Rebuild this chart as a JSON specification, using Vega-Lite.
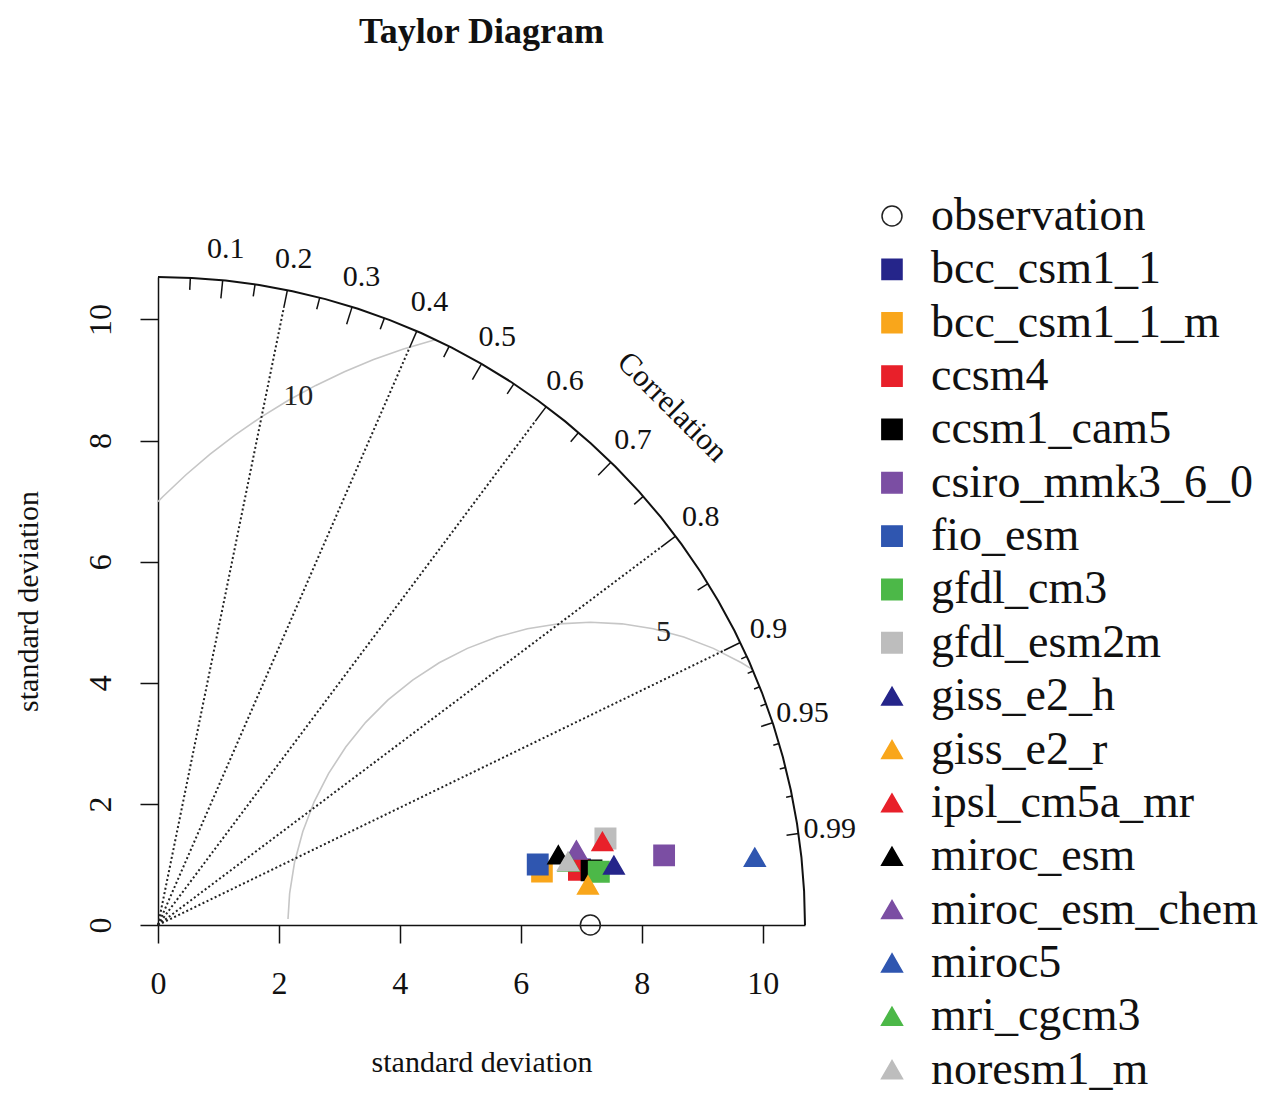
{
  "$schema": "https://vega.github.io/schema/vega-lite/v6.json",
  "width": 647,
  "height": 648,
  "autosize": {"type": "none"},
  "padding": {"left": 158, "top": 277, "right": 457, "bottom": 168},
  "background": "white",
  "config": {
    "view": {"stroke": null},
    "font": "Liberation Serif",
    "legend": {
      "labelFont": "Liberation Serif",
      "labelFontSize": 46,
      "labelColor": "#111111",
      "labelLimit": 500,
      "labelOffset": 16,
      "rowPadding": 7.35,
      "padding": 0,
      "symbolStrokeWidth": 1.5,
      "symbolOpacity": 1
    }
  },
  "title": {
    "text": "Taylor Diagram",
    "font": "Liberation Serif",
    "fontSize": 36,
    "fontWeight": "bold",
    "anchor": "middle",
    "frame": "group",
    "baseline": "alphabetic",
    "offset": 114,
    "color": "#111111"
  },
  "datasets": {
    "outer": [
      {"i": 0, "x": 10.7, "y": 0},
      {"i": 1, "x": 10.685, "y": 0.56},
      {"i": 2, "x": 10.641, "y": 1.118},
      {"i": 3, "x": 10.568, "y": 1.674},
      {"i": 4, "x": 10.466, "y": 2.225},
      {"i": 5, "x": 10.335, "y": 2.769},
      {"i": 6, "x": 10.176, "y": 3.307},
      {"i": 7, "x": 9.989, "y": 3.835},
      {"i": 8, "x": 9.775, "y": 4.352},
      {"i": 9, "x": 9.534, "y": 4.858},
      {"i": 10, "x": 9.266, "y": 5.35},
      {"i": 11, "x": 8.974, "y": 5.828},
      {"i": 12, "x": 8.657, "y": 6.289},
      {"i": 13, "x": 8.316, "y": 6.734},
      {"i": 14, "x": 7.952, "y": 7.16},
      {"i": 15, "x": 7.566, "y": 7.566},
      {"i": 16, "x": 7.16, "y": 7.952},
      {"i": 17, "x": 6.734, "y": 8.316},
      {"i": 18, "x": 6.289, "y": 8.657},
      {"i": 19, "x": 5.828, "y": 8.974},
      {"i": 20, "x": 5.35, "y": 9.266},
      {"i": 21, "x": 4.858, "y": 9.534},
      {"i": 22, "x": 4.352, "y": 9.775},
      {"i": 23, "x": 3.835, "y": 9.989},
      {"i": 24, "x": 3.307, "y": 10.176},
      {"i": 25, "x": 2.769, "y": 10.335},
      {"i": 26, "x": 2.225, "y": 10.466},
      {"i": 27, "x": 1.674, "y": 10.568},
      {"i": 28, "x": 1.118, "y": 10.641},
      {"i": 29, "x": 0.56, "y": 10.685},
      {"i": 30, "x": 0, "y": 10.7}
    ],
    "rms": [
      {"r": "5", "i": 0, "x": 9.829, "y": 4.222},
      {"r": "5", "i": 1, "x": 9.65, "y": 4.33},
      {"r": "5", "i": 2, "x": 9.184, "y": 4.568},
      {"r": "5", "i": 3, "x": 8.695, "y": 4.755},
      {"r": "5", "i": 4, "x": 8.19, "y": 4.891},
      {"r": "5", "i": 5, "x": 7.673, "y": 4.973},
      {"r": "5", "i": 6, "x": 7.15, "y": 5.0},
      {"r": "5", "i": 7, "x": 6.627, "y": 4.973},
      {"r": "5", "i": 8, "x": 6.11, "y": 4.891},
      {"r": "5", "i": 9, "x": 5.605, "y": 4.755},
      {"r": "5", "i": 10, "x": 5.116, "y": 4.568},
      {"r": "5", "i": 11, "x": 4.65, "y": 4.33},
      {"r": "5", "i": 12, "x": 4.211, "y": 4.045},
      {"r": "5", "i": 13, "x": 3.804, "y": 3.716},
      {"r": "5", "i": 14, "x": 3.434, "y": 3.346},
      {"r": "5", "i": 15, "x": 3.105, "y": 2.939},
      {"r": "5", "i": 16, "x": 2.82, "y": 2.5},
      {"r": "5", "i": 17, "x": 2.582, "y": 2.034},
      {"r": "5", "i": 18, "x": 2.395, "y": 1.545},
      {"r": "5", "i": 19, "x": 2.259, "y": 1.04},
      {"r": "5", "i": 20, "x": 2.177, "y": 0.523},
      {"r": "5", "i": 21, "x": 2.15, "y": 0.1},
      {"r": "10", "i": 0, "x": 4.596, "y": 9.668},
      {"r": "10", "i": 1, "x": 4.06, "y": 9.511},
      {"r": "10", "i": 2, "x": 3.566, "y": 9.336},
      {"r": "10", "i": 3, "x": 3.083, "y": 9.136},
      {"r": "10", "i": 4, "x": 2.61, "y": 8.91},
      {"r": "10", "i": 5, "x": 2.15, "y": 8.66},
      {"r": "10", "i": 6, "x": 1.704, "y": 8.387},
      {"r": "10", "i": 7, "x": 1.272, "y": 8.09},
      {"r": "10", "i": 8, "x": 0.857, "y": 7.772},
      {"r": "10", "i": 9, "x": 0.459, "y": 7.431},
      {"r": "10", "i": 10, "x": 0.079, "y": 7.071},
      {"r": "10", "i": 11, "x": 0, "y": 6.991}
    ],
    "rays": [
      {"x": 0, "y": 0, "x2": 2.08, "y2": 10.19},
      {"x": 0, "y": 0, "x2": 4.16, "y2": 9.532},
      {"x": 0, "y": 0, "x2": 6.24, "y2": 8.32},
      {"x": 0, "y": 0, "x2": 8.32, "y2": 6.24},
      {"x": 0, "y": 0, "x2": 9.36, "y2": 4.533}
    ],
    "ticks": [
      {"x": 0.535, "y": 10.686, "x2": 0.525, "y2": 10.487},
      {"x": 1.07, "y": 10.646, "x2": 1.04, "y2": 10.348},
      {"x": 1.605, "y": 10.579, "x2": 1.575, "y2": 10.381},
      {"x": 2.14, "y": 10.484, "x2": 2.08, "y2": 10.19},
      {"x": 2.675, "y": 10.36, "x2": 2.625, "y2": 10.167},
      {"x": 3.21, "y": 10.207, "x2": 3.12, "y2": 9.921},
      {"x": 3.745, "y": 10.023, "x2": 3.675, "y2": 9.836},
      {"x": 4.28, "y": 9.807, "x2": 4.16, "y2": 9.532},
      {"x": 4.815, "y": 9.555, "x2": 4.725, "y2": 9.377},
      {"x": 5.35, "y": 9.266, "x2": 5.2, "y2": 9.007},
      {"x": 5.885, "y": 8.936, "x2": 5.775, "y2": 8.769},
      {"x": 6.42, "y": 8.56, "x2": 6.24, "y2": 8.32},
      {"x": 6.955, "y": 8.131, "x2": 6.825, "y2": 7.979},
      {"x": 7.49, "y": 7.641, "x2": 7.28, "y2": 7.427},
      {"x": 8.025, "y": 7.077, "x2": 7.875, "y2": 6.945},
      {"x": 8.56, "y": 6.42, "x2": 8.32, "y2": 6.24},
      {"x": 9.095, "y": 5.637, "x2": 8.925, "y2": 5.531},
      {"x": 9.63, "y": 4.664, "x2": 9.36, "y2": 4.533},
      {"x": 9.737, "y": 4.436, "x2": 9.646, "y2": 4.395},
      {"x": 9.844, "y": 4.194, "x2": 9.752, "y2": 4.154},
      {"x": 9.951, "y": 3.933, "x2": 9.858, "y2": 3.896},
      {"x": 10.058, "y": 3.651, "x2": 9.964, "y2": 3.616},
      {"x": 10.165, "y": 3.341, "x2": 9.975, "y2": 3.279},
      {"x": 10.272, "y": 2.996, "x2": 10.176, "y2": 2.968},
      {"x": 10.379, "y": 2.601, "x2": 10.282, "y2": 2.577},
      {"x": 10.486, "y": 2.129, "x2": 10.388, "y2": 2.109},
      {"x": 10.593, "y": 1.509, "x2": 10.395, "y2": 1.481}
    ],
    "corrLabels": [
      {"label": "0.1", "x": 1.122, "y": 11.164},
      {"label": "0.2", "x": 2.244, "y": 10.993},
      {"label": "0.3", "x": 3.366, "y": 10.703},
      {"label": "0.4", "x": 4.488, "y": 10.283},
      {"label": "0.5", "x": 5.61, "y": 9.717},
      {"label": "0.6", "x": 6.732, "y": 8.976},
      {"label": "0.7", "x": 7.854, "y": 8.013},
      {"label": "0.8", "x": 8.976, "y": 6.732},
      {"label": "0.9", "x": 10.098, "y": 4.891},
      {"label": "0.95", "x": 10.659, "y": 3.503},
      {"label": "0.99", "x": 11.108, "y": 1.583}
    ],
    "rmsLabels": [
      {"label": "10", "x": 2.32, "y": 8.74},
      {"label": "5", "x": 8.36, "y": 4.84}
    ],
    "corrTitle": [
      {"label": "Correlation", "x": 8.5, "y": 8.55}
    ],
    "models": [
      {"model": "observation", "x": 7.15, "y": 0},
      {"model": "bcc_csm1_1", "x": 6.98, "y": 0.92},
      {"model": "bcc_csm1_1_m", "x": 6.35, "y": 0.88},
      {"model": "ccsm4", "x": 6.96, "y": 0.91},
      {"model": "ccsm1_cam5", "x": 7.17, "y": 0.9},
      {"model": "csiro_mmk3_6_0", "x": 8.37, "y": 1.15},
      {"model": "fio_esm", "x": 6.28, "y": 1.0},
      {"model": "gfdl_cm3", "x": 7.29, "y": 0.88},
      {"model": "gfdl_esm2m", "x": 7.4, "y": 1.43},
      {"model": "giss_e2_h", "x": 7.54, "y": 0.99},
      {"model": "giss_e2_r", "x": 7.11, "y": 0.66},
      {"model": "ipsl_cm5a_mr", "x": 7.35, "y": 1.38},
      {"model": "miroc_esm", "x": 6.62, "y": 1.16},
      {"model": "miroc_esm_chem", "x": 6.92, "y": 1.24},
      {"model": "miroc5", "x": 9.87, "y": 1.12},
      {"model": "mri_cgcm3", "x": 6.79, "y": 1.04},
      {"model": "noresm1_m", "x": 6.78, "y": 1.05}
    ]
  },
  "encoding": {
    "x": {
      "field": "x",
      "type": "quantitative",
      "scale": {"domain": [0, 10.7], "nice": false, "zero": false},
      "axis": {
        "values": [0, 2, 4, 6, 8, 10],
        "grid": false,
        "tickSize": 18,
        "tickWidth": 1.5,
        "tickColor": "#111111",
        "domainColor": "#111111",
        "domainWidth": 1.5,
        "labelFont": "Liberation Serif",
        "labelFontSize": 32,
        "labelColor": "#111111",
        "labelPadding": 40,
        "labelBaseline": "middle",
        "labelFlush": false,
        "labelOverlap": false,
        "title": "standard deviation",
        "titleFont": "Liberation Serif",
        "titleFontSize": 30,
        "titleFontWeight": "normal",
        "titleColor": "#111111",
        "titleY": 137,
        "titleBaseline": "middle"
      }
    },
    "y": {
      "field": "y",
      "type": "quantitative",
      "scale": {"domain": [0, 10.7], "nice": false, "zero": false},
      "axis": {
        "values": [0, 2, 4, 6, 8, 10],
        "grid": false,
        "tickSize": 18,
        "tickWidth": 1.5,
        "tickColor": "#111111",
        "domainColor": "#111111",
        "domainWidth": 1.5,
        "labelFont": "Liberation Serif",
        "labelFontSize": 32,
        "labelColor": "#111111",
        "labelPadding": 40,
        "labelAngle": -90,
        "labelAlign": "center",
        "labelBaseline": "middle",
        "labelFlush": false,
        "labelOverlap": false,
        "title": "standard deviation",
        "titleFont": "Liberation Serif",
        "titleFontSize": 30,
        "titleFontWeight": "normal",
        "titleColor": "#111111",
        "titleAngle": -90,
        "titleX": -130,
        "titleY": 324,
        "titleAlign": "center",
        "titleBaseline": "middle"
      }
    }
  },
  "layer": [
    {
      "data": {"name": "rms"},
      "mark": {"type": "line", "color": "#c6c6c6", "strokeWidth": 1.6},
      "encoding": {
        "detail": {"field": "r", "type": "nominal"},
        "order": {"field": "i", "type": "quantitative"}
      }
    },
    {
      "data": {"name": "rays"},
      "mark": {"type": "rule", "color": "#222222", "strokeWidth": 2, "strokeDash": [2, 2.5]},
      "encoding": {
        "x2": {"field": "x2"},
        "y2": {"field": "y2"}
      }
    },
    {
      "data": {"name": "outer"},
      "mark": {"type": "line", "color": "#111111", "strokeWidth": 2},
      "encoding": {
        "order": {"field": "i", "type": "quantitative"}
      }
    },
    {
      "data": {"name": "ticks"},
      "mark": {"type": "rule", "color": "#111111", "strokeWidth": 1.5},
      "encoding": {
        "x2": {"field": "x2"},
        "y2": {"field": "y2"}
      }
    },
    {
      "data": {"name": "corrLabels"},
      "mark": {"type": "text", "font": "Liberation Serif", "fontSize": 30, "color": "#111111", "align": "center", "baseline": "middle"},
      "encoding": {"text": {"field": "label", "type": "nominal"}}
    },
    {
      "data": {"name": "rmsLabels"},
      "mark": {"type": "text", "font": "Liberation Serif", "fontSize": 30, "color": "#222222", "align": "center", "baseline": "middle"},
      "encoding": {"text": {"field": "label", "type": "nominal"}}
    },
    {
      "data": {"name": "corrTitle"},
      "mark": {"type": "text", "font": "Liberation Serif", "fontSize": 31, "color": "#111111", "align": "center", "baseline": "middle", "angle": 45},
      "encoding": {"text": {"field": "label", "type": "nominal"}}
    },
    {
      "data": {"name": "models"},
      "mark": {"type": "point", "filled": true, "strokeWidth": 1.5, "opacity": 1},
      "encoding": {
        "fill": {
          "field": "model",
          "type": "nominal",
          "scale": {
            "domain": ["observation", "bcc_csm1_1", "bcc_csm1_1_m", "ccsm4", "ccsm1_cam5", "csiro_mmk3_6_0", "fio_esm", "gfdl_cm3", "gfdl_esm2m", "giss_e2_h", "giss_e2_r", "ipsl_cm5a_mr", "miroc_esm", "miroc_esm_chem", "miroc5", "mri_cgcm3", "noresm1_m"],
            "range": ["transparent", "#25258a", "#f9a61b", "#e8202a", "#000000", "#7b4ea3", "#2f56b0", "#4cb848", "#bdbdbd", "#25258a", "#f9a61b", "#e8202a", "#000000", "#7b4ea3", "#2f56b0", "#4cb848", "#bdbdbd"]
          },
          "legend": {"orient": "none", "legendX": 711, "legendY": -84, "title": null}
        },
        "stroke": {
          "field": "model",
          "type": "nominal",
          "scale": {
            "domain": ["observation", "bcc_csm1_1", "bcc_csm1_1_m", "ccsm4", "ccsm1_cam5", "csiro_mmk3_6_0", "fio_esm", "gfdl_cm3", "gfdl_esm2m", "giss_e2_h", "giss_e2_r", "ipsl_cm5a_mr", "miroc_esm", "miroc_esm_chem", "miroc5", "mri_cgcm3", "noresm1_m"],
            "range": ["#222222", "#25258a", "#f9a61b", "#e8202a", "#000000", "#7b4ea3", "#2f56b0", "#4cb848", "#bdbdbd", "#25258a", "#f9a61b", "#e8202a", "#000000", "#7b4ea3", "#2f56b0", "#4cb848", "#bdbdbd"]
          },
          "legend": {"orient": "none", "legendX": 711, "legendY": -84, "title": null}
        },
        "shape": {
          "field": "model",
          "type": "nominal",
          "scale": {
            "domain": ["observation", "bcc_csm1_1", "bcc_csm1_1_m", "ccsm4", "ccsm1_cam5", "csiro_mmk3_6_0", "fio_esm", "gfdl_cm3", "gfdl_esm2m", "giss_e2_h", "giss_e2_r", "ipsl_cm5a_mr", "miroc_esm", "miroc_esm_chem", "miroc5", "mri_cgcm3", "noresm1_m"],
            "range": ["circle", "square", "square", "square", "square", "square", "square", "square", "square", "triangle-up", "triangle-up", "triangle-up", "triangle-up", "triangle-up", "triangle-up", "triangle-up", "triangle-up"]
          },
          "legend": {"orient": "none", "legendX": 711, "legendY": -84, "title": null}
        },
        "size": {
          "field": "model",
          "type": "nominal",
          "scale": {
            "domain": ["observation", "bcc_csm1_1", "bcc_csm1_1_m", "ccsm4", "ccsm1_cam5", "csiro_mmk3_6_0", "fio_esm", "gfdl_cm3", "gfdl_esm2m", "giss_e2_h", "giss_e2_r", "ipsl_cm5a_mr", "miroc_esm", "miroc_esm_chem", "miroc5", "mri_cgcm3", "noresm1_m"],
            "range": [400, 440, 440, 440, 440, 440, 440, 440, 440, 720, 720, 720, 720, 720, 720, 720, 720]
          },
          "legend": {"orient": "none", "legendX": 711, "legendY": -84, "title": null}
        }
      }
    }
  ]
}
